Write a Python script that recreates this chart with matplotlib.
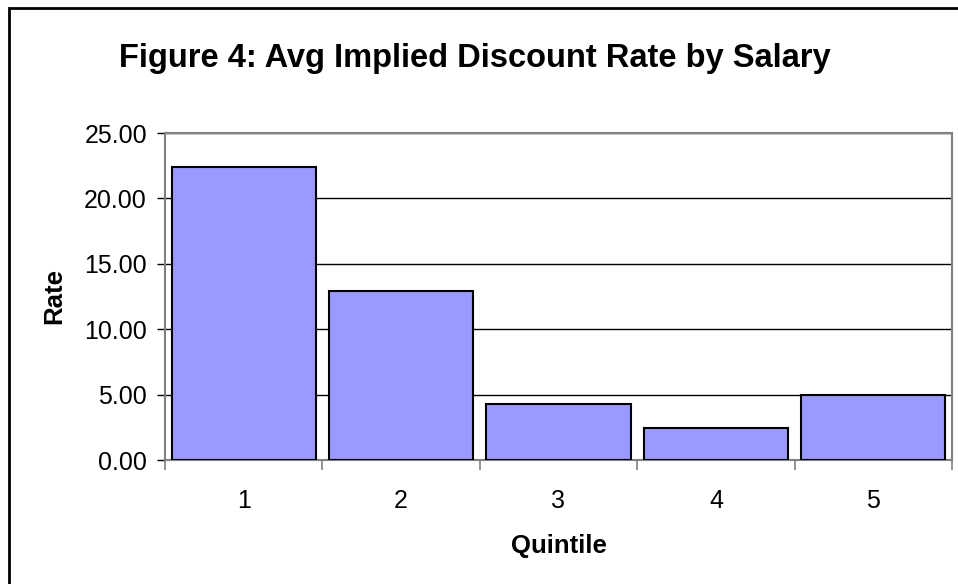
import numpy as np
import matplotlib.pyplot as plt
from matplotlib.patches import Rectangle

quintiles = ['1', '2', '3', '4', '5']
avg_rate = [22.40, 12.95, 4.27, 2.42, 4.97]

plt.rcParams['font.family'] = ['Liberation Sans', 'DejaVu Sans']

fig = plt.figure(figsize=(9.58, 5.84), dpi=100)
ax = fig.add_axes([165 / 958, 124 / 584, 787 / 958, 327 / 584])

x = np.arange(len(quintiles))
ax.bar(x, avg_rate, width=0.915, color='#9999ff', edgecolor='black',
       linewidth=1.5, zorder=3)

ax.set_xlim(-0.5, len(quintiles) - 0.5)
ax.set_ylim(0, 25)
ax.set_yticks(np.arange(0, 26, 5))
ax.set_yticklabels([f'{v:.2f}' for v in np.arange(0, 26, 5)], fontsize=18)
ax.grid(axis='y', color='black', linewidth=1.0, zorder=0)

# category labels in the middle, tick marks between categories
ax.set_xticks(x)
ax.set_xticklabels(quintiles, fontsize=18)
ax.tick_params(axis='x', length=0, pad=21)
ax.set_xticks(np.arange(-0.5, len(quintiles)), minor=True)
ax.tick_params(axis='x', which='minor', length=7, color='#808080', width=1.2)
ax.tick_params(axis='y', length=6, color='black', width=1, pad=7)

for side in ['left', 'bottom', 'top', 'right']:
    ax.spines[side].set_color('#808080')
    ax.spines[side].set_linewidth(1.5)

ax.set_xlabel('Quintile', fontsize=18.5, fontweight='bold', labelpad=15)
ax.set_ylabel('Rate', fontsize=18.5, fontweight='bold', labelpad=13)

fig.text(475 / 958, 1 - 58 / 584,
         'Figure 4: Avg Implied Discount Rate by Salary',
         ha='center', va='center', fontsize=23.5, fontweight='bold')

# outer chart frame
fig.patches.append(Rectangle((9 / 958, -0.1), 1.1, 1 - 8 / 584 + 0.1,
                             transform=fig.transFigure, fill=False,
                             edgecolor='black', linewidth=2))

fig.savefig('out.png', dpi=100)
